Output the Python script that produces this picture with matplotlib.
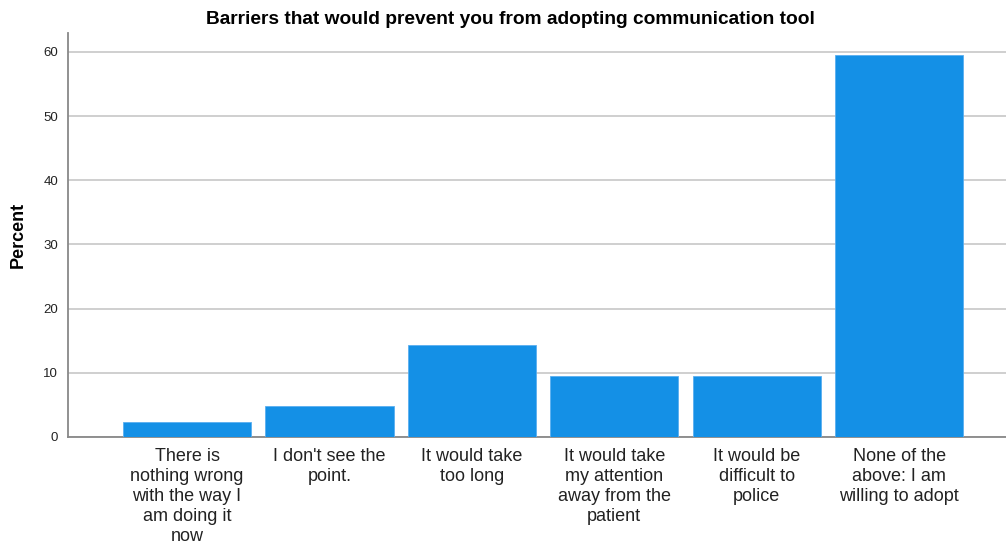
import numpy as np
import matplotlib.pyplot as plt

plt.rcParams['font.family'] = ['Liberation Sans', 'DejaVu Sans']

# answer categories and percentages (n = 42)
categories = [
    "There is\nnothing wrong\nwith the way I\nam doing it\nnow",
    "I don't see the\npoint.",
    "It would take\ntoo long",
    "It would take\nmy attention\naway from the\npatient",
    "It would be\ndifficult to\npolice",
    "None of the\nabove: I am\nwilling to adopt",
]
percent = [2.38, 4.76, 14.29, 9.52, 9.52, 59.52]
yticks = [0, 10, 20, 30, 40, 50, 60]

fig = plt.figure(figsize=(10.06, 5.44), dpi=100)
ax = fig.add_axes([0.0676, 0.1967, 0.9324, 0.742])

x = np.arange(len(categories))
ax.bar(x, percent, width=0.9, color='#1490e6', edgecolor='#5aaef0', linewidth=0.6, zorder=3)

ax.set_xlim(-0.836, 5.75)
ax.set_ylim(0, 62.9)
ax.set_yticks(yticks)
ax.set_yticklabels([str(t) for t in yticks], fontsize=9.5, color='#222222')
ax.set_xticks(x)
ax.set_xticklabels(categories, fontsize=13, color='#222222', linespacing=1.22, va='top')
ax.tick_params(axis='both', length=0, pad=7)
ax.tick_params(axis='x', pad=8)

ax.grid(axis='y', color='#cccccc', linewidth=1.3, zorder=0)
for s in ['top', 'right']:
    ax.spines[s].set_visible(False)
for s in ['left', 'bottom']:
    ax.spines[s].set_color('#888888')
    ax.spines[s].set_linewidth(1.3)

ax.set_ylabel('Percent', fontsize=13, fontweight='bold', labelpad=12)
ax.set_title('Barriers that would prevent you from adopting communication tool',
             fontsize=13.8, fontweight='bold', pad=7, x=0.5 - 0.0676 / 2 + 0.005)

fig.savefig('out.png', dpi=100)
